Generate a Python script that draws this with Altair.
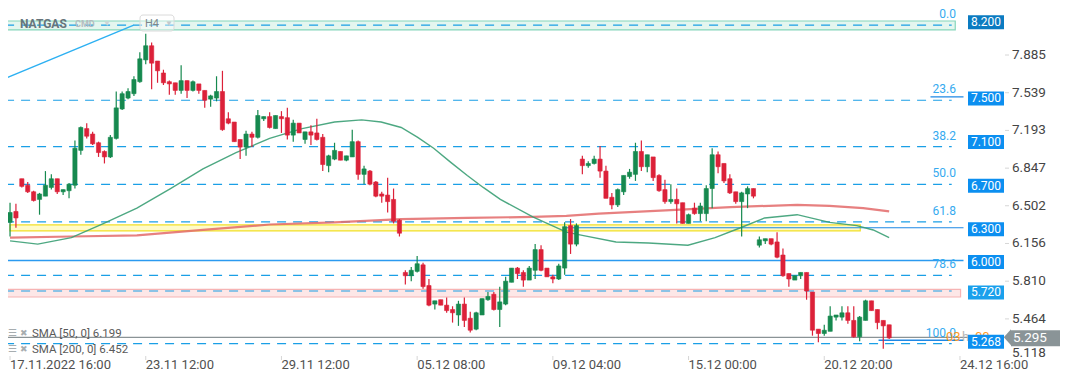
import altair as alt
import pandas as pd

# ---------------- data ----------------
OPEN = [6.35, 6.45, 6.75, 6.69, 6.63, 6.56, 6.59, 6.67, 6.75, 6.63,
        6.64, 6.69, 7.01, 7.21, 7.16, 7.08, 7.00, 6.95, 7.12, 7.39,
        7.49, 7.53, 7.64, 7.84, 7.97, 7.83, 7.72, 7.64, 7.63, 7.56,
        7.65, 7.56, 7.62, 7.56, 7.48, 7.49, 7.55, 7.30, 7.27, 7.11,
        7.04, 7.16, 7.13, 7.30, 7.32, 7.21, 7.32, 7.31, 7.15, 7.26,
        7.11, 7.18, 7.17, 7.13, 6.87, 6.93, 7.00, 6.92, 6.95, 7.09,
        6.79, 6.82, 6.72, 6.61, 6.60, 6.56, 6.37, 5.89, 5.86, 5.90,
        5.96, 5.77, 5.60, 5.64, 5.59, 5.55, 5.50, 5.60, 5.47, 5.37,
        5.50, 5.64, 5.69, 5.55, 5.60, 5.80, 5.93, 5.89, 5.82, 5.91,
        6.10, 5.93, 5.85, 5.83, 5.93, 6.32, 6.15, 6.93, 6.87, 6.89,
        6.93, 6.82, 6.58, 6.51, 6.63, 6.77, 6.79, 7.00, 6.86, 6.95,
        6.78, 6.65, 6.54, 6.56, 6.53, 6.34, 6.48, 6.43, 6.43, 6.66,
        6.97, 6.89, 6.75, 6.63, 6.54, 6.61, 6.66, 6.14, 6.18, 6.20,
        6.17, 6.05, 5.88, 5.82, 5.86, 5.89, 5.71, 5.37, 5.33, 5.35,
        5.48, 5.48, 5.52, 5.45, 5.30, 5.45, 5.63, 5.55, 5.45, 5.41]
HIGH = [6.53, 6.52, 6.75, 6.72, 6.64, 6.62, 6.82, 6.79, 6.75, 6.65,
        6.71, 7.10, 7.23, 7.26, 7.18, 7.09, 7.01, 7.15, 7.55, 7.55,
        7.58, 7.69, 7.91, 8.08, 8.00, 7.83, 7.75, 7.65, 7.63, 7.79,
        7.65, 7.65, 7.62, 7.56, 7.52, 7.69, 7.74, 7.36, 7.27, 7.11,
        7.19, 7.18, 7.38, 7.32, 7.36, 7.33, 7.37, 7.40, 7.29, 7.26,
        7.18, 7.24, 7.30, 7.16, 6.97, 7.08, 7.00, 6.96, 7.20, 7.10,
        6.87, 6.83, 6.73, 6.63, 6.76, 6.66, 6.38, 5.91, 5.94, 6.04,
        5.98, 5.83, 5.63, 5.64, 5.66, 5.58, 5.63, 5.66, 5.53, 5.53,
        5.65, 5.71, 5.71, 5.76, 5.85, 5.93, 5.94, 5.91, 5.95, 6.15,
        6.14, 5.93, 5.87, 5.97, 6.35, 6.38, 6.34, 6.96, 6.91, 6.96,
        7.05, 6.87, 6.62, 6.66, 6.78, 6.84, 7.08, 7.10, 6.97, 6.95,
        6.79, 6.74, 6.70, 6.66, 6.53, 6.43, 6.53, 6.53, 6.69, 7.03,
        7.00, 6.89, 6.79, 6.63, 6.63, 6.68, 6.66, 6.22, 6.20, 6.20,
        6.26, 6.11, 5.88, 5.86, 5.89, 5.89, 5.71, 5.37, 5.41, 5.58,
        5.50, 5.58, 5.58, 5.58, 5.49, 5.64, 5.63, 5.55, 5.45, 5.41]
LOW = [6.22, 6.30, 6.67, 6.62, 6.54, 6.42, 6.59, 6.65, 6.61, 6.60,
       6.57, 6.66, 6.97, 7.12, 7.06, 6.95, 6.89, 6.94, 7.11, 7.38,
       7.48, 7.51, 7.63, 7.80, 7.57, 7.63, 7.61, 7.52, 7.52, 7.53,
       7.49, 7.55, 7.53, 7.40, 7.41, 7.46, 7.19, 7.25, 7.09, 6.93,
       6.96, 7.04, 7.12, 7.28, 7.21, 7.21, 7.17, 7.11, 7.09, 7.17,
       7.07, 7.06, 7.10, 6.82, 6.81, 6.92, 6.92, 6.91, 6.95, 6.74,
       6.70, 6.69, 6.58, 6.53, 6.44, 6.34, 6.22, 5.78, 5.81, 5.89,
       5.74, 5.58, 5.55, 5.59, 5.52, 5.43, 5.40, 5.39, 5.34, 5.36,
       5.50, 5.63, 5.54, 5.39, 5.59, 5.80, 5.83, 5.76, 5.82, 5.83,
       5.90, 5.85, 5.79, 5.82, 5.87, 6.06, 6.13, 6.79, 6.85, 6.88,
       6.76, 6.57, 6.47, 6.49, 6.60, 6.75, 6.73, 6.82, 6.81, 6.73,
       6.63, 6.52, 6.52, 6.34, 6.34, 6.34, 6.42, 6.36, 6.36, 6.48,
       6.80, 6.71, 6.61, 6.52, 6.22, 6.48, 6.57, 6.12, 6.15, 6.14,
       6.02, 5.85, 5.76, 5.82, 5.83, 5.64, 5.31, 5.25, 5.31, 5.35,
       5.45, 5.45, 5.42, 5.29, 5.26, 5.45, 5.54, 5.37, 5.19, 5.28]
CLOSE = [6.44, 6.39, 6.68, 6.63, 6.55, 6.61, 6.69, 6.75, 6.63, 6.65,
         6.70, 7.03, 7.22, 7.14, 7.07, 6.99, 6.95, 7.13, 7.40, 7.53,
         7.55, 7.66, 7.85, 7.97, 7.81, 7.74, 7.63, 7.62, 7.56, 7.65,
         7.56, 7.64, 7.56, 7.47, 7.51, 7.55, 7.20, 7.26, 7.09, 7.04,
         7.16, 7.13, 7.33, 7.32, 7.22, 7.33, 7.30, 7.15, 7.26, 7.17,
         7.18, 7.15, 7.11, 6.88, 6.96, 7.01, 6.92, 6.96, 7.09, 6.79,
         6.84, 6.70, 6.59, 6.59, 6.54, 6.36, 6.25, 5.86, 5.91, 5.97,
         5.76, 5.59, 5.63, 5.59, 5.54, 5.52, 5.60, 5.45, 5.36, 5.52,
         5.65, 5.67, 5.55, 5.62, 5.81, 5.93, 5.88, 5.82, 5.93, 6.10,
         5.91, 5.85, 5.83, 5.95, 6.31, 6.15, 6.32, 6.87, 6.89, 6.93,
         6.82, 6.57, 6.51, 6.65, 6.78, 6.81, 7.00, 6.86, 6.97, 6.76,
         6.64, 6.54, 6.56, 6.52, 6.34, 6.42, 6.43, 6.50, 6.66, 6.97,
         6.86, 6.73, 6.62, 6.54, 6.62, 6.66, 6.59, 6.19, 6.20, 6.15,
         6.03, 5.86, 5.83, 5.86, 5.89, 5.72, 5.36, 5.33, 5.36, 5.49,
         5.50, 5.52, 5.45, 5.30, 5.48, 5.63, 5.54, 5.43, 5.40, 5.29]

SMA50_IDX = [1.0, 5.7, 11.4, 16.9, 22.5, 28.2, 33.7, 39.3, 45.0, 50.5, 56.0, 60.6,
             63.9, 67.3, 70.1, 72.8, 75.7, 78.5, 81.2, 84.1, 89.6, 95.3, 98.0, 103.7,
             109.2, 115.9, 120.5, 124.8, 128.9, 134.4, 139.9, 144.5, 147.3, 150.0]
SMA50_VAL = [6.18, 6.15, 6.21, 6.34, 6.48, 6.66, 6.84, 6.99, 7.12, 7.21, 7.27, 7.29,
             7.27, 7.22, 7.13, 7.03, 6.90, 6.78, 6.67, 6.56, 6.40, 6.26, 6.23, 6.17,
             6.16, 6.14, 6.21, 6.30, 6.39, 6.42, 6.35, 6.32, 6.28, 6.21]
SMA200_IDX = [1.0, 11.4, 22.5, 33.7, 45.0, 56.0, 67.3, 78.5, 89.6, 95.3, 100.8,
              112.1, 123.1, 134.4, 139.9, 145.6, 150.0]
SMA200_VAL = [6.21, 6.22, 6.23, 6.28, 6.33, 6.35, 6.38, 6.39, 6.40, 6.41, 6.43,
              6.46, 6.49, 6.51, 6.50, 6.48, 6.45]

FIB_LEVELS = [8.160, 7.470, 7.044, 6.699, 6.354, 5.863, 5.238]
FIB_LABELS = ["0.0", "23.6", "38.2", "50.0", "61.8", "78.6", "100.0"]

TAG_PRICES = [8.200, 7.500, 7.100, 6.700, 6.300, 6.000, 5.720, 5.268]
TAG_LABELS = ["8.200", "7.500", "7.100", "6.700", "6.300", "6.000", "5.720", "5.268"]
LAST_PRICE = 5.295

PRICE_TICKS = [7.885, 7.539, 7.193, 6.847, 6.502, 6.156, 5.810, 5.464, 5.118]
TIME_IDX = [1, 24, 47, 70, 93, 116, 139, 162]
TIME_LABELS = ["17.11.2022  16:00", "23.11  12:00", "29.11  12:00", "05.12  08:00",
               "09.12  04:00", "15.12  00:00", "20.12  20:00", "24.12  16:00"]

SMA_LEGEND = ["SMA [50,  0] 6.199", "SMA [200,  0] 6.452"]

# ---------------- scales ----------------
W, H = 997, 348
XS = alt.Scale(domain=[1.503, 1.503 + W / 5.96], nice=False, zero=False)
YS = alt.Scale(domain=[5.1236, 5.1236 + H / 109.0], nice=False, zero=False)


def X(f):
    return alt.X(f, type="quantitative", scale=XS, axis=None)


def X2(f):
    return alt.X2(f)


def Y(f):
    return alt.Y(f, type="quantitative", scale=YS, axis=None)


def Y2(f):
    return alt.Y2(f)


FONT = "Roboto"
UP, DOWN = "#16894f", "#dc2139"

# ---------------- frames ----------------
n = len(OPEN)
candles = pd.DataFrame({"i": list(range(1, n + 1)), "o": OPEN, "h": HIGH, "l": LOW, "c": CLOSE})
candles["col"] = [UP if c >= o else DOWN for o, c in zip(OPEN, CLOSE)]

bands = pd.DataFrame({
    "x0": [0.16, 0.16, 1.0], "x1": [161.2, 162.1, 145.1],
    "p0": [8.115, 5.665, 6.271], "p1": [8.197, 5.735, 6.326],
    "fill": ["#e4f6ef", "#fde7e7", "#fffbc8"],
    "stroke": ["#86d6bb", "#f6b4b4", "#f2e027"],
})

fib = pd.DataFrame({"p": FIB_LEVELS + [5.72], "lab": FIB_LABELS + [""]})
fib["x0"] = 0.16
fib["x1"] = 160.6

solid = pd.DataFrame({
    "x0": [95.3, 0.16, 148.2, 157.0, 0.16],
    "x1": [162.6, 162.6, 162.6, 162.6, 168.6],
    "p": [6.300, 6.000, 5.268, 7.500, LAST_PRICE],
    "col": ["#1e88e5", "#2b9af0", "#1e88e5", "#1e88e5", "#8a9396"],
    "w": [1.2, 1.6, 1.5, 1.2, 1.2],
})
diag = pd.DataFrame({"x0": [0.16], "x1": [21.97], "p0": [7.67], "p1": [8.16]})

sma50 = pd.DataFrame({"i": SMA50_IDX, "v": SMA50_VAL})
sma200 = pd.DataFrame({"i": SMA200_IDX, "v": SMA200_VAL})

tags = pd.DataFrame({"p": TAG_PRICES, "lab": TAG_LABELS})
tags["lo"] = tags["p"] - 8.5 / 109.0
tags["hi"] = tags["p"] + 5.5 / 109.0
tags["col"] = ["#0b7bc1"] + ["#0c8ff0"] * 5 + ["#1aa0ec", "#0c8ff0"]

last = pd.DataFrame({"p": [LAST_PRICE], "lab": [f"{LAST_PRICE:.3f}"]})
last["lo"] = last["p"] - 9.0 / 109.0
last["hi"] = last["p"] + 7.0 / 109.0

pticks = pd.DataFrame({"p": PRICE_TICKS, "lab": [f"{v:.3f}" for v in PRICE_TICKS]})
pt_main = pticks.iloc[:-1]
pt_last = pticks.iloc[-1:]
tticks = pd.DataFrame({"i": TIME_IDX, "lab": TIME_LABELS})

one = pd.DataFrame({"a": [0]})

# ---------------- layers ----------------
band_layer = alt.Chart(bands).mark_rect(strokeWidth=1.2).encode(
    x=X("x0"), x2=X2("x1"), y=Y("p0"), y2=Y2("p1"),
    fill=alt.Fill("fill:N", scale=None), stroke=alt.Stroke("stroke:N", scale=None))

fib_layer = alt.Chart(fib).mark_rule(color="#1a9fe6", strokeWidth=1.2, strokeDash=[9, 7]).encode(
    x=X("x0"), x2=X2("x1"), y=Y("p"))

solid_layer = alt.Chart(solid).mark_rule().encode(
    x=X("x0"), x2=X2("x1"), y=Y("p"),
    color=alt.Color("col:N", scale=None), strokeWidth=alt.StrokeWidth("w:Q", scale=None))

diag_layer = alt.Chart(diag).mark_rule(color="#2cb0f2", strokeWidth=1.3).encode(
    x=X("x0"), x2=X2("x1"), y=Y("p0"), y2=Y2("p1"))

sma200_layer = alt.Chart(sma200).mark_line(color="#e36a6a", strokeWidth=2.2, opacity=0.85).encode(
    x=X("i"), y=Y("v"))
sma50_layer = alt.Chart(sma50).mark_line(color="#3a9f74", strokeWidth=1.4, opacity=0.9).encode(
    x=X("i"), y=Y("v"))

wick_layer = alt.Chart(candles).mark_rule(strokeWidth=1.2).encode(
    x=X("i"), y=Y("l"), y2=Y2("h"), color=alt.Color("col:N", scale=None))
body_layer = alt.Chart(candles).mark_bar(size=4.2, strokeWidth=0.6).encode(
    x=X("i"), y=Y("o"), y2=Y2("c"),
    color=alt.Color("col:N", scale=None), stroke=alt.Stroke("col:N", scale=None))

fib_text = alt.Chart(fib).mark_text(align="right", baseline="bottom", dy=-4, fontSize=12,
                                    font=FONT, color="#35aaef").encode(
    x=alt.value(948), y=Y("p"), text="lab:N")

timer = alt.Chart(pd.DataFrame({"t": ["03", "h", "00"], "px": [938, 954, 967],
                                "c": ["#ff9a1f", "#b8b8b8", "#ff9a1f"]})).mark_text(
    align="left", baseline="middle", fontSize=13, font=FONT).encode(
    x=alt.X("px:Q", scale=None, axis=None), y=alt.value(328.5),
    text="t:N", color=alt.Color("c:N", scale=None))

tag_rect = alt.Chart(tags).mark_rect().encode(
    x=alt.value(960), x2=alt.value(996), y=Y("lo"), y2=Y2("hi"),
    color=alt.Color("col:N", scale=None))
tag_text = alt.Chart(tags).mark_text(color="white", fontSize=12, font=FONT, baseline="middle",
                                     dy=1.5).encode(
    x=alt.value(978), y=Y("p"), text="lab:N")

last_rect = alt.Chart(last).mark_rect(color="#8a9497").encode(
    x=alt.value(1003), x2=alt.value(1052), y=Y("lo"), y2=Y2("hi"))
last_arrow = alt.Chart(last).mark_point(shape="M 1 -1 L 0.1 0 L 1 1 Z", filled=True, size=256,
                                        color="#8a9497", opacity=1, strokeWidth=0).encode(
    x=alt.value(995), y=Y("p"))
last_text = alt.Chart(last).mark_text(color="white", fontSize=13.5, font=FONT, align="left",
                                      baseline="middle", dy=1).encode(
    x=alt.value(1005), y=Y("p"), text="lab:N")

ptick_rule = alt.Chart(pt_main).mark_rule(color="#d6d6d6").encode(
    x=alt.value(997), x2=alt.value(1001), y=Y("p"))
ptick_text = alt.Chart(pt_main).mark_text(align="left", baseline="middle", fontSize=13.5,
                                          font=FONT, color="#454545").encode(
    x=alt.value(1004), y=Y("p"), text="lab:N")
ptick_text_last = alt.Chart(pt_last).mark_text(align="left", baseline="middle", fontSize=13.5,
                                               font=FONT, color="#454545", dy=-4).encode(
    x=alt.value(1004), y=Y("p"), text="lab:N")

tt_rule = alt.Chart(tticks).mark_rule(color="#d6d6d6").encode(
    x=X("i"), y=alt.value(348), y2=alt.value(352))
tt_text = alt.Chart(tticks).mark_text(align="left", baseline="middle", fontSize=13,
                                      font=FONT, color="#505050", dy=1).encode(
    x=X("i"), y=alt.value(356), text="lab:N")

# header (symbol and interval)
hdr_box = alt.Chart(one).mark_rect(fill="white", fillOpacity=0.4, stroke="#dadada",
                                   cornerRadius=3, strokeWidth=1).encode(
    x=alt.value(132), x2=alt.value(166), y=alt.value(7), y2=alt.value(23))
hdr_df = pd.DataFrame({
    "t": ["NATGAS", "CMD", "▼", "H4", "▼"],
    "px": [12, 67, 95, 137, 157],
    "fs": [12, 9, 8, 11, 8],
    "c": ["#66757b", "#b5bcc0", "#cfd4d6", "#7c878c", "#c4c9cc"],
    "bold": [True, True, False, False, False],
})
hdr_bold = alt.Chart(hdr_df[hdr_df["bold"]]).mark_text(
    align="left", baseline="middle", font=FONT, fontWeight="bold").encode(
    x=alt.X("px:Q", scale=None, axis=None), y=alt.value(16), text="t:N",
    size=alt.Size("fs:Q", scale=None), color=alt.Color("c:N", scale=None))
hdr_norm = alt.Chart(hdr_df[~hdr_df["bold"]]).mark_text(
    align="left", baseline="middle", font=FONT).encode(
    x=alt.X("px:Q", scale=None, axis=None), y=alt.value(16), text="t:N",
    size=alt.Size("fs:Q", scale=None), color=alt.Color("c:N", scale=None))

legend = alt.Chart(pd.DataFrame({
    "t": ["☰", "✖", SMA_LEGEND[0], "☰", "✖", SMA_LEGEND[1]],
    "px": [0, 12, 24, 0, 12, 24],
    "py": [325, 325, 326, 341, 341, 342],
    "fs": [10, 9, 11.5, 10, 9, 11.5],
    "c": ["#a7adb0", "#a7adb0", "#5a5a5a", "#a7adb0", "#a7adb0", "#5a5a5a"],
})).mark_text(align="left", baseline="middle", font=FONT).encode(
    x=alt.X("px:Q", scale=None, axis=None), y=alt.Y("py:Q", scale=None, axis=None),
    text="t:N", size=alt.Size("fs:Q", scale=None), color=alt.Color("c:N", scale=None))

chart = alt.layer(
    band_layer, fib_layer, solid_layer, diag_layer, sma200_layer, sma50_layer,
    wick_layer, body_layer, fib_text, timer, tag_rect, tag_text,
    last_rect, last_arrow, last_text, ptick_rule, ptick_text, ptick_text_last,
    tt_rule, tt_text, hdr_box, hdr_bold, hdr_norm, legend,
).properties(
    width=W, height=H,
    background="white",
    autosize=alt.AutoSizeParams(type="none"),
    padding={"left": 0, "top": 0, "right": 59, "bottom": 18},
).configure_view(stroke=None)

chart.save("out.html", embed_options={"renderer": "svg", "actions": False})
